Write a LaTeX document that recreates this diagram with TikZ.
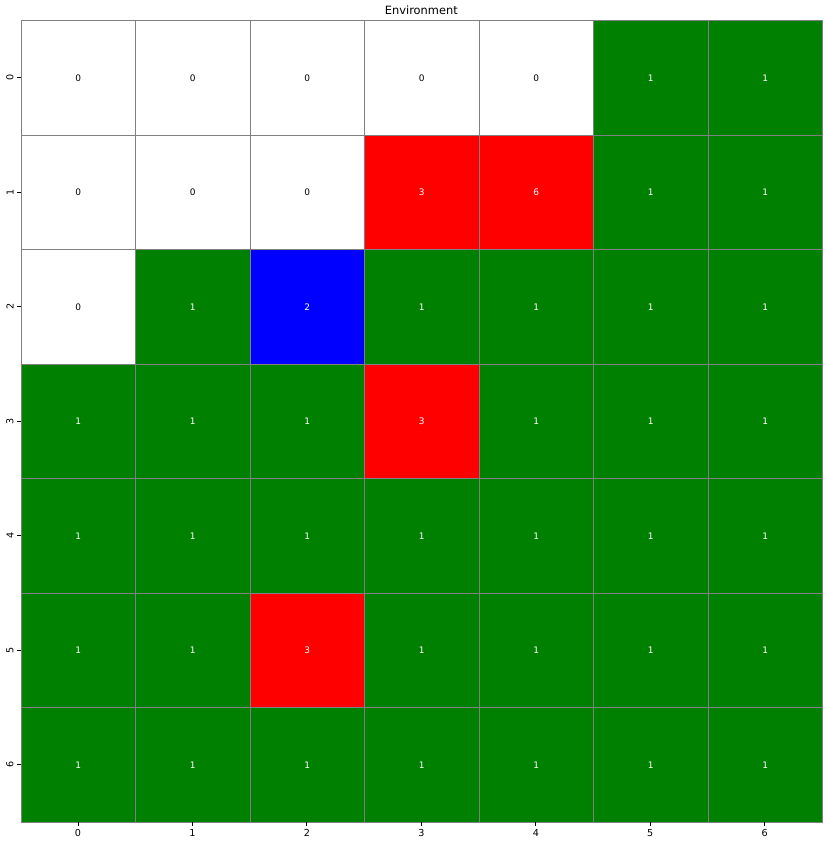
\documentclass[tikz,border=0pt]{standalone}
\usepackage{fontspec}
\setmainfont{DejaVu Sans}
\definecolor{cg}{HTML}{008000}
\definecolor{cr}{HTML}{FF0000}
\definecolor{cb}{HTML}{0000FF}
\definecolor{cw}{HTML}{FFFFFF}
\definecolor{lg}{HTML}{808080}
\begin{document}
\begin{tikzpicture}[x=1pt,y=-1pt,
  cell/.style={draw=lg,line width=0.8pt,minimum width=114.47pt,minimum height=114.53pt,inner sep=0pt,anchor=north west,font=\fontsize{9}{10}\selectfont},
  tick/.style={line width=0.8pt,black},
  ticklab/.style={font=\fontsize{9.6}{11}\selectfont,inner sep=0pt}]
\useasboundingbox (0,0) rectangle (827,844);
\node[font=\fontsize{11.4}{13}\selectfont] (title) at (421.3,10.5) {Environment};
\foreach \r/\vals in {0/{0,0,0,0,0,1,1},1/{0,0,0,3,6,1,1},2/{0,1,2,1,1,1,1},3/{1,1,1,3,1,1,1},4/{1,1,1,1,1,1,1},5/{1,1,3,1,1,1,1},6/{1,1,1,1,1,1,1}}{
  \foreach \v [count=\ci from 0] in \vals {
    \ifcase\v \def\fc{cw}\def\tc{black}\or \def\fc{cg}\def\tc{white}\or \def\fc{cb}\def\tc{white}\or \def\fc{cr}\def\tc{white}\or\or\or \def\fc{cr}\def\tc{white}\fi
    \node[cell,fill=\fc,text=\tc] (c-\r-\ci) at ({20.7+\ci*114.47},{20.3+\r*114.53}) {\v};
  }
}
\foreach \i in {0,...,6}{
  \coordinate (xt\i) at ({20.7+(\i+0.5)*114.47},822);
  \draw[tick] (xt\i) -- ++(0,3.5) coordinate (xe\i);
  \node[ticklab,anchor=north] (xl\i) at ([yshift=-3.5pt]xe\i) {\i};
  \coordinate (yt\i) at (20.7,{20.3+(\i+0.5)*114.53});
  \draw[tick] (yt\i) -- ++(-3.5,0) coordinate (ye\i);
  \node[ticklab,rotate=90,anchor=south] (yl\i) at ([xshift=-3.5pt]ye\i) {\i};
}
\end{tikzpicture}
\end{document}
